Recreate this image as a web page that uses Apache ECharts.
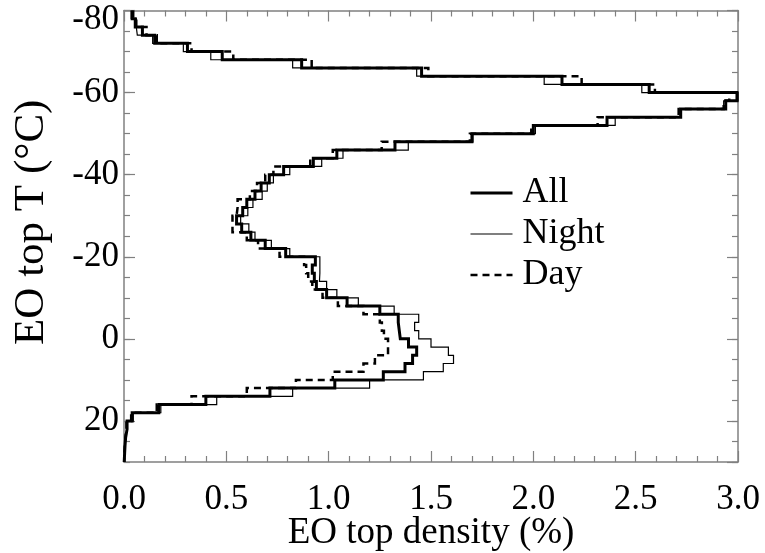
<!DOCTYPE html>
<html>
<head>
<meta charset="utf-8">
<script src="https://cdn.jsdelivr.net/npm/echarts@6/dist/echarts.min.js"></script>
<style>
  html, body { margin: 0; padding: 0; background: #fff; }
  #chart { width: 765px; height: 553px; }
</style>
</head>
<body>
<div id="chart"></div>
<script>
// Lower edge of each 2 °C cloud-top temperature bin
const tempBins = [
  -80, -78, -76, -74, -72, -70, -68, -66, -64, -62,
  -60, -58, -56, -54, -52, -50, -48, -46, -44, -42,
  -40, -38, -36, -34, -32, -30, -28, -26, -24, -22,
  -20, -18, -16, -14, -12, -10, -8, -6, -4, -2,
  0, 2, 4, 6, 8, 10, 12, 14, 16, 18,
  20, 22, 24, 26, 28
];
const binWidth = 2;

// Density of EO tops per bin (%)
const densityAll = [
  0.04, 0.055, 0.09, 0.15, 0.31, 0.48, 0.868, 1.454, 2.14, 2.566,
  2.995, 2.94, 2.72, 2.36, 2.0, 1.70, 1.324, 1.04, 0.925, 0.78,
  0.71, 0.67, 0.64, 0.60, 0.58, 0.55, 0.575, 0.62, 0.69, 0.79,
  0.935, 0.92, 0.93, 0.94, 0.99, 1.09, 1.25, 1.34, 1.345, 1.35,
  1.39, 1.43, 1.41, 1.373, 1.267, 1.03, 0.713, 0.40, 0.17, 0.04,
  0.015, 0.008, 0.005, 0.003, 0.001
];
const densityNight = [
  0.035, 0.06, 0.065, 0.14, 0.29, 0.424, 0.824, 1.43, 2.053, 2.53,
  3.0, 2.93, 2.72, 2.40, 2.01, 1.705, 1.389, 1.07, 0.966, 0.81,
  0.73, 0.70, 0.675, 0.63, 0.605, 0.57, 0.61, 0.64, 0.72, 0.81,
  0.957, 0.957, 0.955, 0.99, 1.04, 1.145, 1.32, 1.44, 1.42, 1.44,
  1.50, 1.585, 1.61, 1.56, 1.463, 1.20, 0.824, 0.453, 0.18, 0.045,
  0.015, 0.009, 0.005, 0.003, 0.001
];
const densityDay = [
  0.045, 0.06, 0.11, 0.16, 0.33, 0.534, 0.917, 1.487, 2.236, 2.594,
  2.957, 2.93, 2.71, 2.314, 1.99, 1.69, 1.259, 1.02, 0.91, 0.73,
  0.69, 0.65, 0.615, 0.555, 0.55, 0.53, 0.53, 0.60, 0.655, 0.76,
  0.88, 0.89, 0.90, 0.92, 0.97, 1.045, 1.17, 1.25, 1.26, 1.27,
  1.29, 1.29, 1.226, 1.17, 1.02, 0.84, 0.60, 0.33, 0.16, 0.035,
  0.012, 0.007, 0.004, 0.002, 0.001
];

const xTicks = { min: 0, max: 3, interval: 0.5 };
const yTicks = { min: -80, max: 30, major: 20, minor: 5 };

// Turn per-bin densities into a vertical step outline: [density, temperature] pairs
function stepOutline(values) {
  const pts = [];
  tempBins.forEach((t, i) => {
    pts.push([values[i], t]);
    pts.push([values[i], t + binWidth]);
  });
  return pts;
}

const serifFont = 'Liberation Serif';
const frameColor = '#808080';

const lineAll = { color: '#000', width: 3, join: 'miter' };
const lineNight = { color: '#000', width: 1.2, join: 'miter' };
const lineDay = { color: '#000', width: 2.5, type: [7, 5], join: 'miter' };

function xAxisDef(position, withLabels) {
  return {
    type: 'value', position: position,
    min: xTicks.min, max: xTicks.max, interval: xTicks.interval,
    axisLine: { show: true, onZero: false, lineStyle: { color: frameColor, width: 1.5 } },
    axisTick: { show: true, inside: true, length: 11, lineStyle: { color: frameColor, width: 1.2 } },
    minorTick: { show: true, splitNumber: 5, length: 6, lineStyle: { color: frameColor, width: 1.2 } },
    splitLine: { show: false },
    axisLabel: withLabels ? {
      show: true, margin: 20, color: '#000', fontFamily: serifFont, fontSize: 35,
      formatter: v => v.toFixed(1)
    } : { show: false },
    name: withLabels ? 'EO top density (%)' : '',
    nameLocation: 'middle', nameGap: 53, nameMoveOverlap: false,
    nameTextStyle: { color: '#000', fontFamily: serifFont, fontSize: 37 }
  };
}

function yAxisDef(position, step, tickLen, withLabels, withLine) {
  return {
    type: 'value', position: position, inverse: true,
    min: yTicks.min, max: yTicks.max, interval: step,
    axisLine: { show: withLine, onZero: false, lineStyle: { color: frameColor, width: 1.5 } },
    axisTick: { show: true, inside: true, length: tickLen, lineStyle: { color: frameColor, width: 1.2 } },
    splitLine: { show: false },
    axisLabel: withLabels ? {
      show: true, margin: 5, color: '#000', fontFamily: serifFont, fontSize: 35,
      showMaxLabel: false,
      formatter: v => (v === yTicks.min ? '{edge|' + v + '}' : String(v)),
      rich: { edge: { padding: [19, 0, 0, 0], color: '#000', fontFamily: serifFont, fontSize: 35 } }
    } : { show: false },
    name: withLabels ? 'EO top T (°C)' : '',
    nameLocation: 'middle', nameRotate: 90, nameGap: 71, nameMoveOverlap: false,
    nameTextStyle: { color: '#000', fontFamily: serifFont, fontSize: 43, padding: [0, 0, 0, 28] }
  };
}

const chart = echarts.init(document.getElementById('chart'), null, { renderer: 'canvas' });

chart.setOption({
  backgroundColor: '#fff',
  animation: false,
  grid: { left: 124, right: 27, top: 10.5, bottom: 91, containLabel: false, outerBoundsMode: 'none' },
  xAxis: [
    xAxisDef('bottom', true),
    xAxisDef('top', false)
  ],
  yAxis: [
    yAxisDef('left', yTicks.major, 11, true, true),
    yAxisDef('left', yTicks.minor, 6, false, false),
    yAxisDef('right', yTicks.major, 11, false, true),
    yAxisDef('right', yTicks.minor, 6, false, false)
  ],
  legend: {
    orient: 'vertical', left: 464, top: 170,
    itemWidth: 42, itemHeight: 14, itemGap: 5,
    data: [
      { name: 'All', lineStyle: lineAll },
      { name: 'Night', lineStyle: lineNight },
      { name: 'Day', lineStyle: lineDay }
    ],
    itemStyle: { opacity: 0 },
    textStyle: { color: '#000', fontFamily: serifFont, fontSize: 36, lineHeight: 36, padding: [0, 0, 0, 5] }
  },
  series: [
    {
      name: 'All', type: 'line', xAxisIndex: 0, yAxisIndex: 0,
      data: stepOutline(densityAll), showSymbol: false, symbol: 'none',
      lineStyle: lineAll, itemStyle: { color: '#000' }, z: 3
    },
    {
      name: 'Night', type: 'line', xAxisIndex: 0, yAxisIndex: 0,
      data: stepOutline(densityNight), showSymbol: false, symbol: 'none',
      lineStyle: lineNight, itemStyle: { color: '#000' }, z: 2
    },
    {
      name: 'Day', type: 'line', xAxisIndex: 0, yAxisIndex: 0,
      data: stepOutline(densityDay), showSymbol: false, symbol: 'none',
      lineStyle: lineDay, itemStyle: { color: '#000' }, z: 2
    }
  ]
});
</script>
</body>
</html>
